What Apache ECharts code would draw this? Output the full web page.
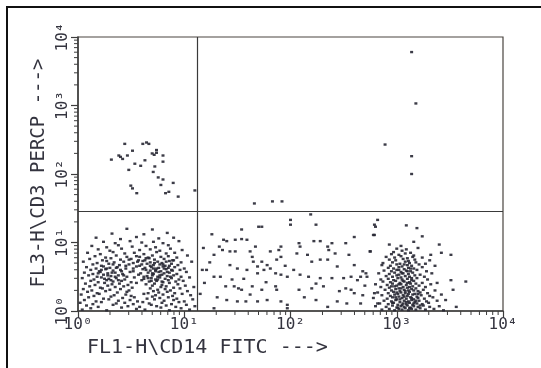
<!DOCTYPE html>
<html><head><meta charset="utf-8">
<script src="https://cdn.jsdelivr.net/npm/echarts@6/dist/echarts.min.js"></script>
<style>html,body{margin:0;padding:0;background:#fff}#c{width:541px;height:368px}</style>
</head><body><div id="c"></div>
<script>
// Values are in decades (log10 of fluorescence intensity), axes labelled 10^0..10^4
const xTickLabels = ['10\u2070','10\u00b9','10\u00b2','10\u00b3','10\u2074'];
const yTickLabels = ['10\u2070','10\u00b9','10\u00b2','10\u00b3','10\u2074'];
const xTitle = 'FL1-H\\CD14 FITC --->';
const yTitle = 'FL3-H\\CD3 PERCP --->';
const gateX = 1.12;
const gateY = 1.45;

const upperRight = [[3.14,3.78],[3.18,3.03],[2.89,2.43],[3.14,2.26],[3.14,2.00]];

const upperLeft = [[0.44,2.44],[0.61,2.44],[0.645,2.46],[0.667,2.44],[0.314,2.21],[0.384,2.27],[0.40,2.25],
[0.42,2.22],[0.465,2.27],[0.513,2.34],[0.739,2.35],[0.698,2.30],[0.717,2.28],[0.739,2.31],[0.80,2.27],
[0.80,2.18],[0.535,2.15],[0.59,2.12],[0.63,2.20],[0.478,2.06],[0.723,2.11],[0.708,2.03],[0.755,1.95],
[0.80,1.92],[0.78,1.84],[0.896,1.87],[0.497,1.83],[0.513,1.79],[0.553,1.72],[0.824,1.72],[0.855,1.74],
[0.943,1.67],[1.10,1.76]];

const middleUpper = [[1.66,1.57],[1.83,1.60],[1.92,1.60]];

const middle = [[2.00,1.33],[2.00,1.26],[2.24,1.26],[2.79,1.26],[1.54,1.19],[1.70,1.23],[1.73,1.23],[2.19,1.41],
[2.60,1.08],[1.37,1.04],[1.40,1.02],[1.48,1.04],[1.54,1.05],[1.59,1.04],[2.79,1.11],[2.08,0.99],[2.22,1.02],
[2.28,1.02],[2.39,0.99],[2.52,0.99],[1.28,0.82],[1.36,0.89],[1.43,0.87],[1.48,0.87],[1.62,0.87],[1.67,0.94],
[1.81,0.87],[1.89,0.89],[1.91,0.94],[2.09,0.94],[2.35,0.94],[2.36,0.89],[2.75,0.87],[1.64,0.79],[1.65,0.72],
[1.73,0.72],[1.78,0.67],[1.81,0.62],[1.69,0.65],[1.87,0.75],[1.91,0.79],[2.06,0.84],[2.16,0.82],[2.20,0.72],
[2.28,0.75],[2.35,0.75],[2.42,0.84],[2.44,0.65],[2.60,0.67],[2.68,0.58],[2.71,0.55],[1.17,0.60],[1.21,0.60],
[1.28,0.50],[1.34,0.50],[1.43,0.67],[1.50,0.62],[1.59,0.60],[1.69,0.55],[1.75,0.60],[1.86,0.55],[1.91,0.53],
[1.97,0.50],[2.03,0.60],[2.09,0.53],[2.17,0.50],[2.24,0.40],[2.28,0.48],[2.39,0.48],[2.50,0.48],[2.57,0.50],
[2.63,0.45],[2.66,0.50],[2.72,0.50],[1.39,0.36],[1.47,0.36],[1.51,0.33],[1.54,0.31],[1.64,0.36],[1.73,0.31],
[1.86,0.36],[1.87,0.31],[2.08,0.31],[2.20,0.33],[2.31,0.36],[2.52,0.33],[2.57,0.31],[2.60,0.26],[2.68,0.23],
[2.79,0.26],[1.40,0.16],[1.50,0.14],[1.58,0.14],[1.69,0.14],[1.78,0.16],[1.91,0.14],[1.97,0.09],[2.24,0.16],
[2.35,0.06],[2.44,0.14],[2.53,0.11],[2.66,0.11],[2.82,0.11],[1.28,0.04],[1.97,0.04],[1.15,0.25],[1.19,0.41],
[1.24,0.71],[1.31,0.20],[1.33,0.94],[1.45,0.46],[1.56,0.47],[1.62,0.24],[1.77,0.42],[1.95,0.66],[2.13,0.20],
[2.46,0.29],[2.55,0.82],[2.70,0.37],[1.18,0.92],[1.26,1.12]];

const lowerLeft = [[0.04,0.02],[0.12,0.04],[0.27,0.01],[0.41,0.05],[0.55,0.03],[0.63,0.02],[0.78,0.05],[0.86,0.01],[0.97,0.04],[1.05,0.02],
[0.08,0.08],[0.19,0.06],[0.33,0.09],[0.47,0.07],[0.58,0.06],[0.69,0.09],[0.74,0.07],[0.83,0.08],[0.92,0.06],[1.02,0.09],[1.10,0.07],
[0.02,0.12],[0.14,0.10],[0.22,0.13],[0.36,0.11],[0.44,0.12],[0.52,0.10],[0.61,0.13],[0.67,0.11],[0.79,0.12],[0.88,0.10],[0.95,0.13],
[0.06,0.16],[0.17,0.14],[0.29,0.17],[0.38,0.15],[0.49,0.16],[0.56,0.14],[0.72,0.17],[0.81,0.15],[0.90,0.16],[1.00,0.14],[1.08,0.17],
[0.10,0.20],[0.24,0.18],[0.31,0.21],[0.42,0.19],[0.53,0.20],[0.65,0.18],[0.70,0.21],[0.77,0.19],[0.85,0.20],[0.93,0.18],
[0.03,0.24],[0.15,0.22],[0.20,0.25],[0.34,0.23],[0.45,0.24],[0.50,0.22],[0.62,0.25],[0.73,0.23],[0.80,0.24],[0.89,0.22],[0.98,0.25],[1.06,0.23],
[0.09,0.28],[0.18,0.26],[0.26,0.29],[0.37,0.27],[0.46,0.28],[0.66,0.26],[0.71,0.29],[0.76,0.27],[0.84,0.28],[0.91,0.26],[1.03,0.29],
[0.05,0.32],[0.13,0.30],[0.23,0.33],[0.30,0.31],[0.40,0.32],[0.48,0.30],[0.68,0.33],[0.75,0.31],[0.82,0.32],[0.87,0.30],[0.96,0.33],
[0.11,0.36],[0.21,0.34],[0.28,0.37],[0.35,0.35],[0.43,0.36],[0.51,0.34],[0.70,0.37],[0.78,0.35],[0.83,0.36],[0.90,0.34],[1.01,0.37],[1.09,0.35],
[0.07,0.40],[0.16,0.38],[0.25,0.41],[0.32,0.39],[0.39,0.40],[0.47,0.38],[0.55,0.41],[0.64,0.39],[0.72,0.40],[0.79,0.38],[0.86,0.41],[0.94,0.39],
[0.12,0.44],[0.19,0.42],[0.27,0.45],[0.33,0.43],[0.41,0.44],[0.50,0.42],[0.60,0.45],[0.67,0.43],[0.74,0.44],[0.80,0.42],[0.85,0.45],[0.92,0.43],[0.99,0.44],
[0.04,0.48],[0.15,0.46],[0.22,0.49],[0.29,0.47],[0.36,0.48],[0.44,0.46],[0.53,0.49],[0.62,0.47],[0.69,0.48],[0.73,0.46],[0.77,0.49],[0.82,0.47],[0.88,0.48],[0.95,0.46],[1.05,0.49],
[0.10,0.52],[0.18,0.50],[0.24,0.53],[0.31,0.51],[0.38,0.52],[0.46,0.50],[0.57,0.53],[0.65,0.51],[0.70,0.52],[0.75,0.50],[0.79,0.53],[0.84,0.51],[0.90,0.52],[0.97,0.50],
[0.06,0.56],[0.14,0.54],[0.21,0.57],[0.28,0.55],[0.35,0.56],[0.42,0.54],[0.49,0.57],[0.59,0.55],[0.66,0.56],[0.71,0.54],[0.76,0.57],[0.81,0.55],[0.86,0.56],[0.93,0.54],[1.02,0.57],
[0.12,0.60],[0.20,0.58],[0.26,0.61],[0.33,0.59],[0.40,0.60],[0.52,0.58],[0.61,0.61],[0.68,0.59],[0.73,0.60],[0.78,0.58],[0.83,0.61],[0.89,0.59],[0.96,0.60],
[0.08,0.64],[0.17,0.62],[0.24,0.65],[0.30,0.63],[0.37,0.64],[0.45,0.62],[0.55,0.65],[0.63,0.63],[0.69,0.64],[0.74,0.62],[0.80,0.65],[0.85,0.63],[0.91,0.64],[1.00,0.62],
[0.14,0.68],[0.22,0.66],[0.29,0.69],[0.39,0.67],[0.48,0.68],[0.58,0.66],[0.65,0.69],[0.71,0.67],[0.77,0.68],[0.82,0.66],[0.88,0.69],[0.94,0.67],
[0.05,0.72],[0.18,0.70],[0.27,0.73],[0.34,0.71],[0.43,0.72],[0.52,0.70],[0.61,0.73],[0.68,0.71],[0.75,0.72],[0.79,0.70],[0.86,0.73],[0.97,0.71],[1.07,0.72],
[0.11,0.76],[0.23,0.74],[0.31,0.77],[0.40,0.75],[0.50,0.76],[0.57,0.74],[0.64,0.77],[0.72,0.75],[0.81,0.76],[0.89,0.74],
[0.16,0.80],[0.26,0.78],[0.36,0.81],[0.46,0.79],[0.55,0.80],[0.66,0.78],[0.70,0.81],[0.78,0.79],[0.85,0.80],[0.93,0.78],[1.03,0.81],
[0.09,0.85],[0.21,0.83],[0.33,0.86],[0.44,0.84],[0.53,0.85],[0.62,0.83],[0.74,0.86],[0.83,0.84],[0.91,0.85],
[0.19,0.90],[0.30,0.88],[0.41,0.91],[0.58,0.89],[0.68,0.90],[0.77,0.88],[0.87,0.91],[0.98,0.89],
[0.13,0.95],[0.27,0.93],[0.38,0.96],[0.51,0.94],[0.64,0.95],[0.73,0.93],[0.85,0.96],
[0.24,1.01],[0.35,0.99],[0.49,1.02],[0.60,1.00],[0.71,1.01],[0.80,0.99],[0.95,1.02],
[0.17,1.07],[0.40,1.05],[0.55,1.08],[0.76,1.06],[0.90,1.07],[0.32,1.13],[0.62,1.12],[0.84,1.14],[0.46,1.20],[0.70,1.19],
[0.62,0.50],[0.66,0.48],[0.70,0.55],[0.73,0.58],[0.77,0.52],[0.81,0.62],[0.84,0.57],[0.87,0.50],[0.64,0.60],[0.68,0.66],
[0.72,0.70],[0.76,0.63],[0.80,0.68],[0.83,0.72],[0.86,0.66],[0.60,0.68],[0.63,0.74],[0.67,0.77],[0.71,0.62],[0.75,0.46],
[0.79,0.43],[0.88,0.60],[0.90,0.74],[0.69,0.44],[0.25,0.47],[0.28,0.52],[0.32,0.56],[0.35,0.50],[0.38,0.45],[0.41,0.58],
[0.22,0.60],[0.27,0.62],[0.31,0.45],[0.36,0.63],[0.43,0.52],[0.19,0.55],[0.33,0.68],[0.45,0.66],[0.52,0.62],[0.56,0.72],
[0.48,0.75],[0.58,0.79]];

const lowerRight = [[2.86,0.02],[2.93,0.03],[2.98,0.01],[3.02,0.03],[3.05,0.02],[3.08,0.04],[3.11,0.01],[3.14,0.03],[3.18,0.02],[3.22,0.04],[3.27,0.02],[3.35,0.03],[3.44,0.01],[3.56,0.06],
[2.80,0.07],[2.90,0.06],[2.96,0.08],[3.00,0.05],[3.04,0.07],[3.07,0.06],[3.10,0.08],[3.13,0.05],[3.16,0.07],[3.20,0.06],[3.25,0.08],[3.31,0.06],[3.40,0.07],
[2.84,0.11],[2.92,0.10],[2.97,0.12],[3.01,0.09],[3.06,0.11],[3.09,0.10],[3.12,0.12],[3.15,0.09],[3.19,0.11],[3.24,0.10],[3.30,0.12],[3.46,0.16],
[2.88,0.15],[2.95,0.14],[2.99,0.16],[3.03,0.13],[3.07,0.15],[3.11,0.14],[3.14,0.16],[3.17,0.13],[3.21,0.15],[3.28,0.14],[3.38,0.15],
[2.78,0.19],[2.91,0.18],[2.96,0.20],[3.00,0.17],[3.05,0.19],[3.09,0.18],[3.13,0.20],[3.16,0.17],[3.20,0.19],[3.26,0.18],[3.34,0.20],
[2.86,0.23],[2.94,0.22],[2.98,0.24],[3.02,0.21],[3.06,0.23],[3.10,0.22],[3.15,0.24],[3.19,0.21],[3.23,0.23],[3.31,0.22],[3.42,0.24],
[2.82,0.27],[2.92,0.26],[2.97,0.28],[3.01,0.25],[3.04,0.27],[3.08,0.26],[3.12,0.28],[3.17,0.25],[3.22,0.27],[3.29,0.26],
[2.89,0.31],[2.95,0.30],[2.99,0.32],[3.03,0.29],[3.07,0.31],[3.11,0.30],[3.14,0.32],[3.20,0.29],[3.25,0.31],[3.36,0.30],[3.53,0.31],
[2.85,0.35],[2.93,0.34],[2.98,0.36],[3.02,0.33],[3.06,0.35],[3.10,0.34],[3.15,0.36],[3.18,0.33],[3.27,0.35],
[2.80,0.39],[2.91,0.38],[2.96,0.40],[3.00,0.37],[3.04,0.39],[3.09,0.38],[3.13,0.40],[3.21,0.37],[3.32,0.39],
[2.87,0.43],[2.94,0.42],[2.99,0.44],[3.03,0.41],[3.07,0.43],[3.12,0.42],[3.16,0.44],[3.24,0.41],[3.38,0.41],[3.65,0.43],
[2.85,0.46],[2.92,0.47],[2.97,0.45],[3.01,0.48],[3.05,0.46],[3.10,0.47],[3.14,0.45],[3.19,0.48],[3.29,0.46],[3.51,0.45],
[2.90,0.51],[2.96,0.50],[3.00,0.52],[3.04,0.49],[3.08,0.51],[3.12,0.50],[3.17,0.52],[3.26,0.50],
[2.83,0.55],[2.93,0.54],[2.98,0.56],[3.02,0.53],[3.06,0.55],[3.11,0.54],[3.15,0.56],[3.22,0.53],[3.33,0.55],
[2.88,0.59],[2.95,0.58],[3.00,0.60],[3.04,0.57],[3.09,0.59],[3.13,0.58],[3.19,0.60],[3.28,0.58],
[2.92,0.63],[2.97,0.62],[3.02,0.64],[3.07,0.61],[3.11,0.63],[3.16,0.62],[3.24,0.64],
[2.86,0.67],[2.94,0.66],[3.00,0.68],[3.05,0.65],[3.10,0.67],[3.14,0.66],[3.21,0.68],[3.36,0.66],
[2.87,0.70],[2.96,0.71],[3.03,0.69],[3.08,0.72],[3.12,0.70],[3.18,0.71],[3.27,0.69],
[2.93,0.75],[2.99,0.74],[3.06,0.76],[3.11,0.73],[3.17,0.75],[3.31,0.74],
[2.90,0.79],[2.98,0.78],[3.04,0.80],[3.10,0.77],[3.15,0.79],[3.24,0.78],
[2.95,0.83],[3.02,0.82],[3.08,0.84],[3.16,0.81],[3.32,0.82],[3.51,0.82],
[2.75,0.87],[2.97,0.86],[3.05,0.88],[3.13,0.85],[3.42,0.85],
[3.00,0.91],[3.09,0.90],[3.20,0.92],[2.93,0.97],[3.04,0.95],[3.16,1.01],[3.40,0.97],
[3.24,1.09],[2.78,1.11],[3.19,1.21],[3.09,1.25],[2.80,1.23],[2.82,1.33],
[3.01,0.05],[3.05,0.09],[3.09,0.13],[3.12,0.04],[3.16,0.11],[3.03,0.17],[3.07,0.21],[3.11,0.25],[3.14,0.19],[3.18,0.15],
[3.00,0.27],[3.04,0.33],[3.08,0.29],[3.12,0.35],[3.16,0.30],[3.02,0.39],[3.06,0.44],[3.10,0.41],[3.14,0.48],[2.99,0.20],
[3.20,0.25],[3.22,0.08],[2.96,0.12],[3.05,0.55],[3.10,0.58],[3.13,0.62],[3.07,0.68],[3.02,0.60],[3.18,0.40],[2.95,0.36]];

// minor tick positions of a 4-decade log scale (2..9 within each decade)
const minorTicks = [];
for (let d = 0; d < 4; d++) for (let k = 2; k <= 9; k++) minorTicks.push(d + Math.log10(k));

const FONT = 'DejaVu Sans Mono';
const INK = '#34343f';
const DOT = '#272733';
const AXC = '#3d3d3d';

const chart = echarts.init(document.getElementById('c'), null, {renderer: 'canvas'});

function axisBase(labels, isY) {
  return {
    type: 'value', min: 0, max: 4, interval: 1,
    axisLine: {show: true, lineStyle: {color: AXC, width: 1.5}},
    axisTick: {show: true, inside: false, length: 7, lineStyle: {color: AXC, width: 1.2}},
    axisLabel: {
      show: true, formatter: v => labels[Math.round(v)],
      fontFamily: FONT, fontSize: 16, color: INK,
      rotate: isY ? 90 : 0, margin: isY ? 7 : 6
    },
    splitLine: {show: false}
  };
}

const sym = {type: 'scatter', symbol: 'rect', symbolSize: [3, 2.4], silent: true,
             itemStyle: {color: DOT, opacity: 0.9}};

chart.setOption({
  animation: false,
  backgroundColor: '#ffffff',
  grid: {left: 78, right: 38, top: 37, bottom: 57, show: true, borderColor: '#4a4540', borderWidth: 1.2, backgroundColor: 'transparent'},
  xAxis: axisBase(xTickLabels, false),
  yAxis: axisBase(yTickLabels, true),
  series: [
    Object.assign({}, sym, {name: 'lowerLeft', data: lowerLeft,
      markLine: {silent: true, symbol: ['none', 'none'], label: {show: false},
                 lineStyle: {type: 'solid', color: '#3a3a3a', width: 1.2},
                 data: [{xAxis: gateX}, {yAxis: gateY}]}}),
    Object.assign({}, sym, {name: 'lowerRight', data: lowerRight}),
    Object.assign({}, sym, {name: 'middle', data: middle}),
    Object.assign({}, sym, {name: 'middleUpper', data: middleUpper}),
    Object.assign({}, sym, {name: 'upperLeft', data: upperLeft}),
    Object.assign({}, sym, {name: 'upperRight', data: upperRight}),
    {type: 'custom', name: 'xMinorTicks', silent: true, clip: false,
     data: minorTicks.map(v => [v, 0]),
     renderItem: (params, api) => {
       const p = api.coord([api.value(0), 0]);
       return {type: 'line', shape: {x1: p[0], y1: p[1], x2: p[0], y2: p[1] + 4},
               style: {stroke: AXC, lineWidth: 1}};
     }},
    {type: 'custom', name: 'yMinorTicks', silent: true, clip: false,
     data: minorTicks.map(v => [0, v]),
     renderItem: (params, api) => {
       const p = api.coord([0, api.value(1)]);
       return {type: 'line', shape: {x1: p[0], y1: p[1], x2: p[0] - 4, y2: p[1]},
               style: {stroke: AXC, lineWidth: 1}};
     }}
  ],
  graphic: [
    {type: 'rect', shape: {x: 7, y: 7, width: 620, height: 420}, silent: true,
     style: {fill: 'none', stroke: '#111', lineWidth: 2}},
    {type: 'text', x: 87, y: 348, silent: true,
     style: {text: xTitle, font: '20px "DejaVu Sans Mono"', fill: INK, align: 'left', verticalAlign: 'middle'}},
    {type: 'text', x: 39, y: 173, rotation: Math.PI / 2, silent: true,
     style: {text: yTitle, font: '19px "DejaVu Sans Mono"', fill: INK, align: 'center', verticalAlign: 'middle'}}
  ]
});
</script>
</body></html>
